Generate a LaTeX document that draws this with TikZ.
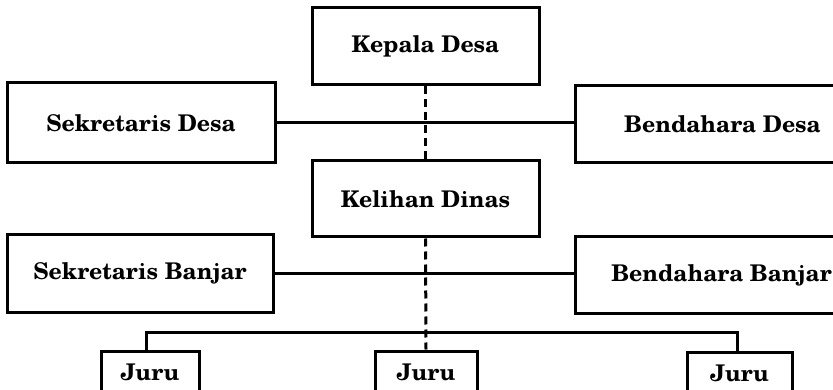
\documentclass[tikz,border=0pt]{standalone}
\usepackage{fontspec}
\setmainfont{TeX Gyre Schola}
\begin{document}
\begin{tikzpicture}[x=1pt,y=-1pt,
  orgbox/.style={draw,line width=3pt,rectangle,inner sep=0pt,
    font=\fontsize{23}{27}\selectfont\bfseries},
  link/.style={line width=3pt},
  dashlink/.style={line width=3pt,dash pattern=on 8pt off 5pt}]
\useasboundingbox (0,0) rectangle (833,390);
\clip (0,0) rectangle (833,390);
% top level
\node[orgbox,minimum width=227pt,minimum height=77pt] (kepala) at (425.5,46.5) {Kepala Desa};
\node[orgbox,minimum width=268pt,minimum height=80pt] (sekd) at (141,123) {Sekretaris Desa};
\node[orgbox,minimum width=295pt,minimum height=77pt] (bendd) at (722.5,124.5) {Bendahara Desa};
% banjar level
\node[orgbox,minimum width=227pt,minimum height=76pt] (kelihan) at (425.5,199) {Kelihan Dinas};
\node[orgbox,minimum width=266pt,minimum height=77pt] (sekb) at (140,273.5) {Sekretaris Banjar};
\node[orgbox,minimum width=293pt,minimum height=76pt] (bendb) at (721.5,275) {Bendahara Banjar};
% juru
\node[orgbox,minimum width=98pt,minimum height=42pt] (juru1) at (150,372) {Juru};
\node[orgbox,minimum width=102pt,minimum height=42pt] (juru2) at (426,372) {Juru};
\node[orgbox,minimum width=105pt,minimum height=42pt] (juru3) at (739.5,373) {Juru};
% connectors
\draw[link] (sekd.east) -- (sekd.east -| bendd.west);
\draw[link] (sekb.east) -- (sekb.east -| bendb.west);
\draw[link] ([xshift=-4pt]juru1.north) -- ++(0,-17) -| ([xshift=-2.5pt]juru3.north);
\draw[dashlink] (kepala.south) -- (kelihan.north);
\draw[dashlink] (kelihan.south) -- (juru2.north);
\end{tikzpicture}
\end{document}
